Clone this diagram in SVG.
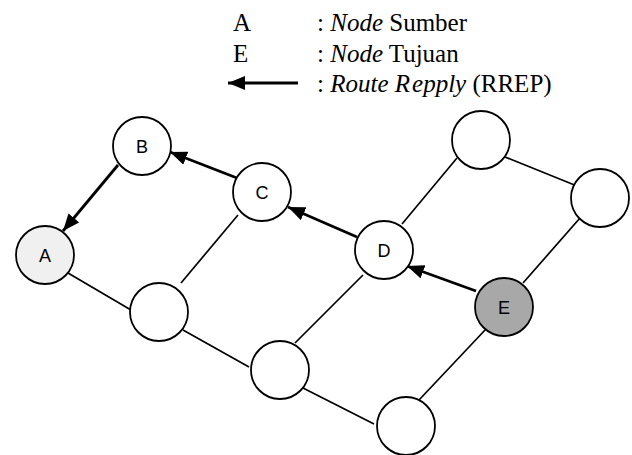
<svg xmlns="http://www.w3.org/2000/svg" width="632" height="455" viewBox="0 0 632 455">
  <style>
    .node circle { fill: #ffffff; stroke: #000000; stroke-width: 1.8; }
    .node text { font-family: "Liberation Sans", Arial, sans-serif; font-size: 18px; text-anchor: middle; fill: #000000; }
    .link { stroke: #000000; stroke-width: 1.7; fill: none; }
    .rrep { stroke: #000000; stroke-width: 2.8; fill: none; marker-end: url(#head); }
    .legend { font-family: "Liberation Serif", "Times New Roman", serif; font-size: 25px; fill: #000000; }
    .legend .it { font-style: italic; }
  </style>
  <defs>
    <marker id="head" markerUnits="userSpaceOnUse" markerWidth="18" markerHeight="14" refX="17" refY="7" orient="auto">
      <path d="M0,0 L17,7 L0,14 Z" fill="#000000"/>
    </marker>
  </defs>

  <!-- legend -->
  <g id="legend">
    <text class="legend" x="233" y="31">A</text>
    <text class="legend" x="317" y="31">: <tspan class="it">Node</tspan> Sumber</text>
    <text class="legend" x="233" y="62">E</text>
    <text class="legend" x="317" y="62">: <tspan class="it">Node</tspan> Tujuan</text>
    <line class="rrep" x1="298" y1="83" x2="228" y2="83"/>
    <text class="legend" x="317" y="92">: <tspan class="it">Route R</tspan><tspan class="it" dx="2">epply</tspan> (RREP)</text>
  </g>

  <!-- connectors -->
  <g id="connectors">
    <line class="link" x1="68" y1="273" x2="131" y2="310"/>
    <line class="link" x1="181" y1="283" x2="238" y2="215"/>
    <line class="link" x1="183" y1="330" x2="249" y2="367"/>
    <line class="link" x1="295" y1="343" x2="363" y2="275"/>
    <line class="link" x1="303" y1="388" x2="374" y2="424"/>
    <line class="link" x1="419" y1="400" x2="486" y2="329"/>
    <line class="link" x1="402" y1="224" x2="457" y2="158"/>
    <line class="link" x1="505" y1="157" x2="577" y2="186"/>
    <line class="link" x1="580" y1="218" x2="523" y2="283"/>
    <line class="rrep" x1="237" y1="178" x2="170" y2="152"/>
    <line class="rrep" x1="118" y1="165" x2="63" y2="231"/>
    <line class="rrep" x1="357" y1="237" x2="288" y2="207"/>
    <line class="rrep" x1="476" y1="291" x2="407" y2="266"/>
  </g>

  <!-- nodes -->
  <g id="node-A" class="node"><circle cx="45" cy="255" r="29" style="fill:#f0f0f0"/><text x="45" y="261.5">A</text></g>
  <g id="node-B" class="node"><circle cx="142" cy="146" r="29"/><text x="142" y="152.5">B</text></g>
  <g id="node-C" class="node"><circle cx="262" cy="192" r="29"/><text x="262" y="198.5">C</text></g>
  <g id="node-D" class="node"><circle cx="384" cy="250" r="29"/><text x="384" y="256.5">D</text></g>
  <g id="node-E" class="node"><circle cx="504" cy="307" r="29" style="fill:#a8a8a8"/><text x="504" y="313.5">E</text></g>
  <g id="node-F" class="node"><circle cx="159" cy="312" r="29"/></g>
  <g id="node-G" class="node"><circle cx="280" cy="370" r="29"/></g>
  <g id="node-H" class="node"><circle cx="406" cy="426" r="29"/></g>
  <g id="node-N1" class="node"><circle cx="481" cy="140" r="29"/></g>
  <g id="node-N2" class="node"><circle cx="600" cy="198" r="29"/></g>
</svg>
